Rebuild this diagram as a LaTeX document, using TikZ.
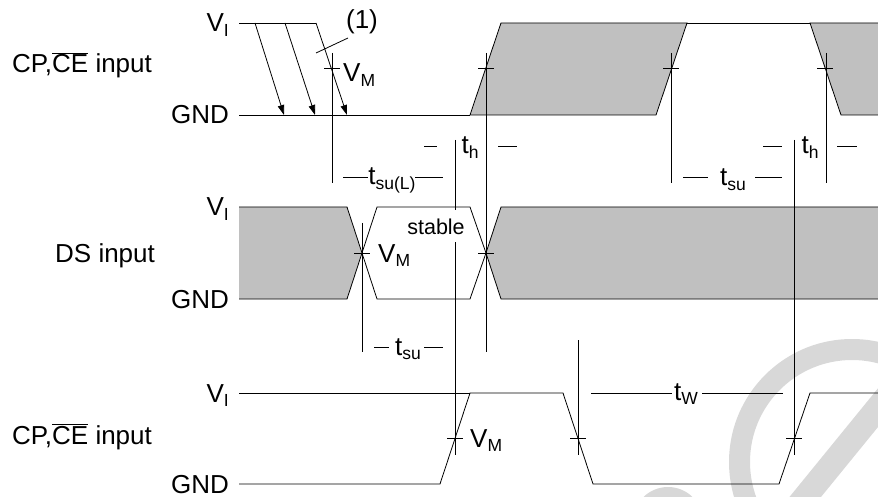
\documentclass[tikz,border=0pt]{standalone}
\usepackage{fontspec}
\setmainfont{Liberation Sans}
\usetikzlibrary{arrows.meta}
\definecolor{sigfill}{RGB}{192,192,192}
\definecolor{wmark}{RGB}{216,216,216}
\newcommand{\sbs}[1]{\raisebox{-4.5pt}{\fontsize{17.5}{20}\selectfont #1}}
\newcommand{\cebar}{$\overline{\hbox{CE}}$}
\tikzset{
  lbl/.style={inner sep=0pt, font=\fontsize{26}{30}\selectfont},
  small/.style={inner sep=0pt, font=\fontsize{21.5}{26}\selectfont},
  wave/.style={line width=0.8pt},
  guide/.style={line width=0.8pt},
  tick/.style={line width=0.8pt},
  edgearrow/.style={line width=0.8pt, -{Triangle[length=10pt,width=6.5pt]}},
}
\begin{document}
\begin{tikzpicture}[x=1pt,y=-1pt]
\useasboundingbox (0,0) rectangle (878,497);
% watermark
\begin{scope}
  \clip (0,0) rectangle (878,497);
  \fill[wmark,even odd rule] (852,462) circle (123) (852,462) circle (102);
  \begin{scope}
    \clip (852,462) circle (110);
    \fill[wmark] (755.5,558) ++(-9.5,-7.7) -- ++(198,-243) -- ++(19,15.4) -- ++(-198,243) -- cycle;
  \end{scope}
  \fill[wmark] (668,522) circle (35);
\end{scope}

% ---------- top row: CP, CE input ----------
\node[lbl, anchor=base west] (cp1) at (12,73) {CP,\cebar\ input};
\node[lbl, anchor=base east] (vi1) at (229,32) {V\sbs{I}};
\node[lbl, anchor=base east] (gnd1) at (229,124) {GND};
\coordinate (a1s) at (255,23); \coordinate (a1e) at (284,115);
\coordinate (a2s) at (285,23); \coordinate (a2e) at (315,115);
\coordinate (a3s) at (316,23); \coordinate (a3e) at (347,115);
\draw[wave] (239,23) -- (a3s);
\draw[edgearrow] (a1s) -- (a1e);
\draw[edgearrow] (a2s) -- (a2e);
\draw[edgearrow] (a3s) -- (a3e);
\draw[wave] (239,115) -- (470,115);
\filldraw[wave, fill=sigfill] (470,115) -- (501,23) -- (687,23) -- (656,115) -- cycle;
\draw[wave] (687,23) -- (810,23);
\fill[sigfill] (810,23) -- (878,23) -- (878,115) -- (841,115) -- cycle;
\draw[wave] (878,23) -- (810,23) -- (841,115) -- (878,115);
\node[lbl, anchor=center] (one) at (362,22) {(1)};
\draw[guide] (348,38) -- (316,53);
\node[lbl, anchor=base west] (vm1) at (343,82) {V\sbs{M}};

% ---------- DS row ----------
\node[lbl, anchor=base west] (ds) at (55,262) {DS input};
\node[lbl, anchor=base east] (vi2) at (229,216) {V\sbs{I}};
\node[lbl, anchor=base east] (gnd2) at (229,308) {GND};
\fill[sigfill] (239,207) -- (347,207) -- (362,253) -- (347,299) -- (239,299) -- cycle;
\draw[wave] (239,207) -- (347,207) -- (362,253) -- (347,299) -- (239,299);
\fill[sigfill] (878,207) -- (501,207) -- (486,253) -- (501,299) -- (878,299) -- cycle;
\draw[wave] (878,207) -- (501,207) -- (486,253) -- (501,299) -- (878,299);
\draw[wave] (362,253) -- (377,207) -- (470,207) -- (486,253) -- (470,299) -- (377,299) -- cycle;
\node[small, anchor=center] (stable) at (436,227) {stable};
\node[lbl, anchor=base west] (vm2) at (378,262) {V\sbs{M}};

% ---------- bottom row ----------
\node[lbl, anchor=base west] (cp2) at (12,444) {CP,\cebar\ input};
\node[lbl, anchor=base east] (vi3) at (229,402) {V\sbs{I}};
\node[lbl, anchor=base east] (gnd3) at (229,493) {GND};
\draw[wave] (239,393) -- (470,393);
\draw[wave] (239,484) -- (440,484) -- (470,393) -- (563,393) -- (593,484) -- (779,484) -- (810,393) -- (878,393);
\node[lbl, anchor=base west] (vm3) at (470,447) {V\sbs{M}};

% ---------- guide lines ----------
\draw[guide] (332,53) -- (332,183);
\draw[guide] (455,140) -- (455,210);
\draw[guide] (455,242) -- (455,455);
\draw[guide] (486,53) -- (486,352);
\draw[guide] (671,53) -- (671,183);
\draw[guide] (794,140) -- (794,455);
\draw[guide] (826,53) -- (826,183);
\draw[guide] (362,223) -- (362,352);
\draw[guide] (578,340) -- (578,455);

% ---------- VM ticks ----------
\foreach \x/\y in {332/68, 486/68, 671/68, 825/68, 362/253, 486/253, 455/438, 578/438, 794/438}
  \draw[tick] (\x-8,\y) -- (\x+8,\y);

% ---------- timing labels ----------
\node[lbl, anchor=base] (tsuL) at (392,185) {t\sbs{su(L)}};
\draw[guide] (343,177) -- (368,177);
\draw[guide] (415,177) -- (443,177);

\node[lbl, anchor=base] (th1) at (470,154) {t\sbs{h}};
\draw[guide] (424,146) -- (437,146);
\draw[guide] (498,146) -- (517,146);

\node[lbl, anchor=base] (tsu1) at (733,186) {t\sbs{su}};
\draw[guide] (683,177) -- (708,177);
\draw[guide] (755,177) -- (782,177);

\node[lbl, anchor=base] (th2) at (810,154) {t\sbs{h}};
\draw[guide] (763,146) -- (782,146);
\draw[guide] (837,146) -- (857,146);

\node[lbl, anchor=base] (tsu2) at (408,355) {t\sbs{su}};
\draw[guide] (374,347) -- (389,347);
\draw[guide] (424,347) -- (443,347);

\node[lbl, anchor=base] (tw) at (686,400) {t\sbs{W}};
\draw[guide] (591,393) -- (672,393);
\draw[guide] (702,393) -- (783,393);
\end{tikzpicture}
\end{document}
